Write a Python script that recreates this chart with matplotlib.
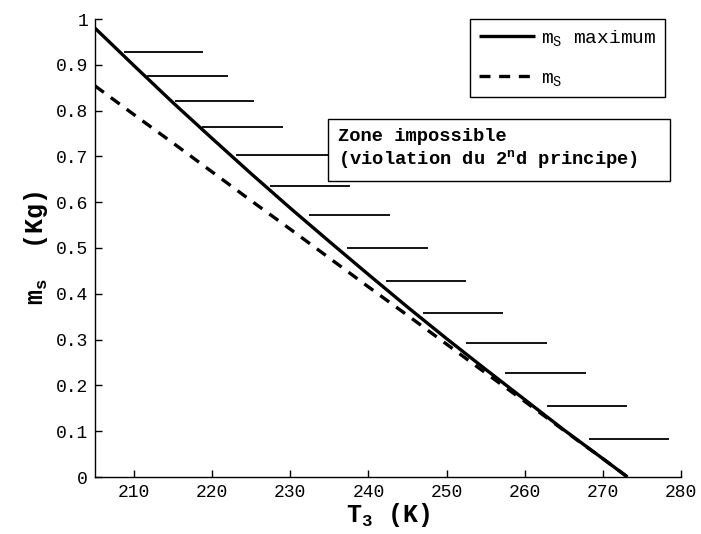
import matplotlib
matplotlib.use('Agg')
import matplotlib.pyplot as plt
from matplotlib.patches import Rectangle

# ---- data ----
T = [205, 210, 215, 220, 225, 230, 235, 240, 245, 250, 255, 260, 265, 270, 273.15]
m_max = [0.980, 0.898, 0.817, 0.739, 0.662, 0.587, 0.514, 0.442, 0.371,
         0.302, 0.235, 0.169, 0.103, 0.040, 0.0]
m_s = [0.854, 0.791, 0.729, 0.666, 0.603, 0.541, 0.478, 0.415, 0.353,
       0.290, 0.227, 0.165, 0.102, 0.040, 0.0]

hatch_y = [0.927, 0.876, 0.822, 0.765, 0.703, 0.635, 0.571, 0.499, 0.429,
           0.357, 0.292, 0.226, 0.154, 0.084]
hatch_x0 = [208.7, 211.7, 215.3, 218.7, 223.1, 227.4, 232.4, 237.3, 242.3,
            247.0, 252.5, 257.5, 262.8, 268.2]
hatch_x1 = [218.8, 222.0, 225.3, 229.1, 236.0, 237.6, 242.7, 247.6, 252.5,
            257.2, 262.8, 267.8, 273.1, 278.5]

xticks = [210, 220, 230, 240, 250, 260, 270, 280]
yticks = [0, 0.1, 0.2, 0.3, 0.4, 0.5, 0.6, 0.7, 0.8, 0.9, 1]
ytick_labels = ['0', '0.1', '0.2', '0.3', '0.4', '0.5', '0.6', '0.7', '0.8', '0.9', '1']

label_max = r'$\mathregular{m_S}$ maximum'
label_s = r'$\mathregular{m_S}$'
zone_text = 'Zone impossible\n(violation du 2$\\mathregular{^n}$d principe)'

plt.rcParams['font.family'] = ['Liberation Mono', 'DejaVu Sans Mono']

W, H = 701, 534
fig = plt.figure(figsize=(W / 100, H / 100), dpi=100)
ax = fig.add_axes([95 / W, 1 - 477 / H, (681 - 95) / W, (477 - 19) / H])

ax.plot(T, m_max, color='k', lw=2.4, label=label_max, solid_capstyle='butt')
ax.plot(T, m_s, color='k', lw=2.4, ls=(0, (3.3, 2.6)), label=label_s)
ax.hlines(hatch_y, hatch_x0, hatch_x1, color='k', lw=1.3)

ax.set_xlim(205, 280)
ax.set_ylim(0, 1)
ax.set_xticks(xticks)
ax.set_yticks(yticks)
ax.set_yticklabels(ytick_labels)
ax.spines['top'].set_visible(False)
ax.spines['right'].set_visible(False)
for s in ('left', 'bottom'):
    ax.spines[s].set_linewidth(1.0)
ax.tick_params(direction='in', length=5, width=1, labelsize=13, pad=5)

ax.set_xlabel(r'$\mathregular{T_3}$ (K)', fontsize=18, fontweight='bold', labelpad=0)
ax.set_ylabel(r'$\mathregular{m_s}$  (Kg)', fontsize=18, fontweight='bold', labelpad=4)

leg = ax.legend(loc='upper left', bbox_to_anchor=(470 / W, 1 - 19 / H),
                bbox_transform=fig.transFigure, borderaxespad=0, frameon=True,
                fancybox=False, edgecolor='k', framealpha=1, fontsize=14,
                handlelength=2.9, labelspacing=1.1, borderpad=0.45,
                handletextpad=0.3)
leg.get_frame().set_linewidth(1.0)

rect = Rectangle((328 / W, 1 - 181 / H), (670 - 328) / W, (181 - 119) / H,
                 transform=fig.transFigure, facecolor='white', edgecolor='k',
                 lw=1.0, zorder=5, clip_on=False)
ax.add_patch(rect)
ax.text(338 / W, 1 - 149 / H, zone_text, transform=fig.transFigure,
        ha='left', va='center', fontsize=13.5, fontweight='bold',
        linespacing=1.2, zorder=6)

fig.savefig('out.png', dpi=100)
